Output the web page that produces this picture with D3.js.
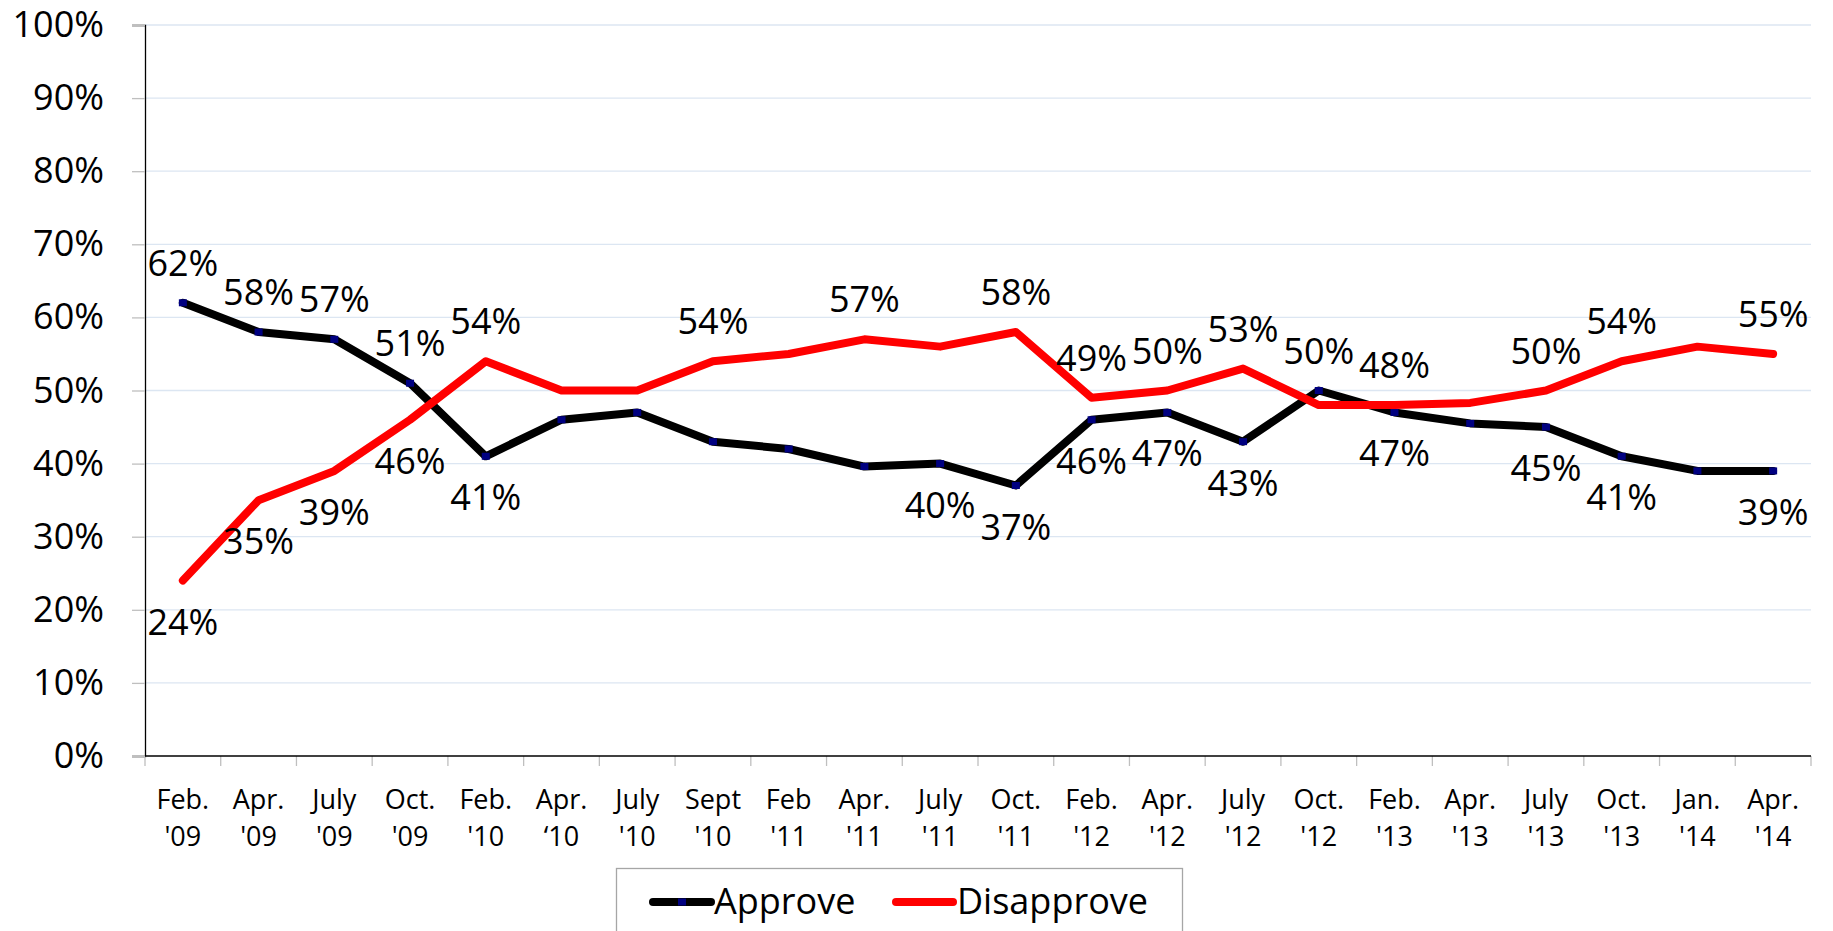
<!DOCTYPE html>
<html>
<head>
<meta charset="utf-8">
<script src="https://cdn.jsdelivr.net/npm/d3@7"></script>
<style>
  body { margin: 0; background: #fff; }
  svg text { font-family: "Open Sans", sans-serif; fill: #000; }
</style>
</head>
<body>
<div id="chart"></div>
<script>
// data
const months = ["Feb.","Apr.","July","Oct.","Feb.","Apr.","July","Sept","Feb","Apr.","July","Oct.",
                "Feb.","Apr.","July","Oct.","Feb.","Apr.","July","Oct.","Jan.","Apr."]
const years = ["'09","'09","'09","'09","'10","\u201810","'10","'10","'11","'11","'11","'11",
               "'12","'12","'12","'12","'13","'13","'13","'13","'14","'14"]
const approve = [62,58,57,51,41,46,47,43,42,39.6,40,37,46,47,43,50,47,45.5,45,41,39,39]
const disapprove = [24,35,39,46,54,50,50,54,55,57,56,58,49,50,53,48,48,48.3,50,54,56,55]
const approveLabels = ["62%","58%","57%","51%","41%",null,null,null,null,null,"40%","37%",
                       "46%","47%","43%","50%","47%",null,"45%","41%",null,"39%"]
const disapproveLabels = ["24%","35%","39%","46%","54%",null,null,"54%",null,"57%",null,"58%",
                          "49%","50%","53%",null,"48%",null,"50%","54%",null,"55%"]
const yTicks = [0,10,20,30,40,50,60,70,80,90,100]
const seriesNames = ["Approve","Disapprove"]

const W = 1833, H = 931
const plotLeft = 145, plotRight = 1811, plotTop = 25, plotBottom = 756

const svg = d3.select("#chart").append("svg")
  .attr("width", W).attr("height", H)

const cats = months.map((m, i) => i)
const x = d3.scaleBand(cats, [plotLeft, plotRight]).padding(0)
const y = d3.scaleLinear([0, 100], [plotBottom, plotTop])
const cx = i => x(i) + x.bandwidth() / 2

// gridlines
svg.append("g").selectAll("line")
  .data(yTicks.filter(d => d > 0))
  .enter().append("line")
  .attr("x1", plotLeft).attr("x2", plotRight)
  .attr("y1", d => y(d)).attr("y2", d => y(d))
  .attr("stroke", "#dce6f2").attr("stroke-width", 1.3)

// y axis
let yAxis = svg.append("g")
  .attr("transform", `translate(${plotLeft},0)`)
  .call(d3.axisLeft(y).tickValues(yTicks).tickFormat(d => d + "%").tickSize(13).tickPadding(28))
yAxis.select(".domain").attr("stroke", "#000").attr("stroke-width", 1.3)
yAxis.selectAll(".tick line").attr("stroke", "#bfbfbf").attr("stroke-width", 1.3)
yAxis.selectAll(".tick text").style("font-size", "36px").style("font-family", "'Open Sans', sans-serif")
  .attr("fill", "#000")

// x axis: ticks at category boundaries
const bounds = cats.map(i => x(i)).concat([plotRight])
svg.append("g").selectAll("line")
  .data(bounds)
  .enter().append("line")
  .attr("x1", d => d).attr("x2", d => d)
  .attr("y1", plotBottom).attr("y2", plotBottom + 10)
  .attr("stroke", "#bfbfbf").attr("stroke-width", 1.3)
svg.append("line")
  .attr("x1", plotLeft).attr("x2", plotRight)
  .attr("y1", plotBottom).attr("y2", plotBottom)
  .attr("stroke", "#000").attr("stroke-width", 1.5)

let xLabels = svg.append("g").selectAll("text")
  .data(cats)
  .enter().append("text")
  .attr("text-anchor", "middle")
  .style("font-size", "27px")
xLabels.append("tspan").attr("x", d => cx(d)).attr("y", 809).text(d => months[d])
xLabels.append("tspan").attr("x", d => cx(d)).attr("y", 846).text(d => years[d])

// lines
const dMaker = d3.line()
  .x((d, i) => cx(i))
  .y(d => y(d))

svg.append("path")
  .datum(approve)
  .attr("fill", "none").attr("stroke", "#000").attr("stroke-width", 8)
  .attr("stroke-linejoin", "round").attr("stroke-linecap", "round")
  .attr("d", dMaker)

svg.append("g").selectAll("rect")
  .data(approve)
  .enter().append("rect")
  .attr("x", (d, i) => cx(i) - 4).attr("y", d => y(d) - 3.5)
  .attr("width", 8).attr("height", 7)
  .attr("fill", "#000080")

svg.append("path")
  .datum(disapprove)
  .attr("fill", "none").attr("stroke", "#ff0000").attr("stroke-width", 8)
  .attr("stroke-linejoin", "round").attr("stroke-linecap", "round")
  .attr("d", dMaker)

// data labels: on the outer side of each series
function drawLabels(values, other, labels) {
  svg.append("g").selectAll("text")
    .data(values.map((v, i) => ({ v: v, i: i, t: labels[i], up: v > other[i] })).filter(d => d.t))
    .enter().append("text")
    .attr("x", d => cx(d.i))
    .attr("y", d => d.up ? y(d.v) - 27 : y(d.v) + 54)
    .attr("text-anchor", "middle")
    .style("font-size", "36px")
    .text(d => d.t)
}
drawLabels(approve, disapprove, approveLabels)
drawLabels(disapprove, approve, disapproveLabels)

// legend
let legend = svg.append("g")
legend.append("rect")
  .attr("x", 616.5).attr("y", 868.5).attr("width", 566).attr("height", 100)
  .attr("fill", "none").attr("stroke", "#a6a6a6").attr("stroke-width", 1.3)

const legendItems = [
  { name: seriesNames[0], color: "#000", x1: 653, x2: 711, tx: 714, marker: true },
  { name: seriesNames[1], color: "#ff0000", x1: 896, x2: 953, tx: 957, marker: false }
]
for (let item of legendItems) {
  legend.append("line")
    .attr("x1", item.x1).attr("x2", item.x2).attr("y1", 902).attr("y2", 902)
    .attr("stroke", item.color).attr("stroke-width", 8).attr("stroke-linecap", "round")
  if (item.marker) {
    legend.append("rect")
      .attr("x", (item.x1 + item.x2) / 2 - 4).attr("y", 898.5)
      .attr("width", 8).attr("height", 7).attr("fill", "#000080")
  }
  legend.append("text")
    .attr("x", item.tx).attr("y", 914)
    .style("font-size", "36px")
    .text(item.name)
}
</script>
</body>
</html>
